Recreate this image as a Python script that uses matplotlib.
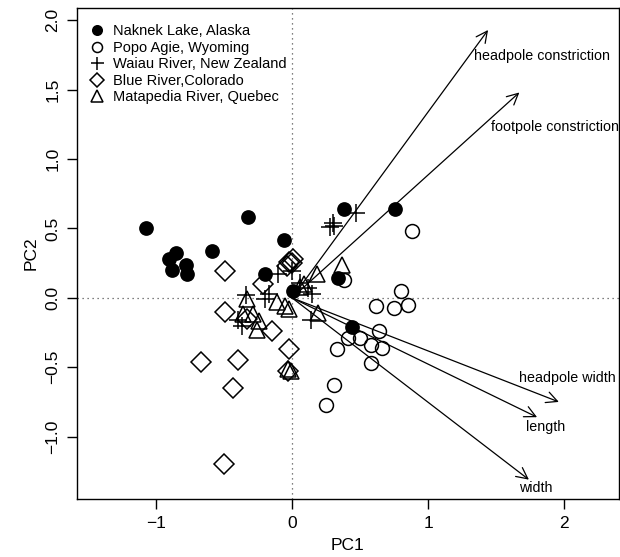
import numpy as np
import matplotlib
matplotlib.use("Agg")
import matplotlib.pyplot as plt

plt.rcParams['font.family'] = ['Liberation Sans', 'DejaVu Sans']

# Naknek Lake, Alaska (filled circles)
naknek_x = [-1.07, -0.90, -0.85, -0.88, -0.78, -0.77, -0.59, -0.32, -0.06, -0.20, 0.01, 0.38, 0.76, 0.34, 0.44]
naknek_y = [0.50, 0.28, 0.32, 0.20, 0.24, 0.17, 0.34, 0.58, 0.42, 0.17, 0.05, 0.64, 0.64, 0.14, -0.21]

# Popo Agie, Wyoming (open circles)
popo_x = [0.88, 0.38, 0.80, 0.85, 0.75, 0.62, 0.64, 0.50, 0.41, 0.58, 0.66, 0.33, 0.58, 0.31, 0.25]
popo_y = [0.48, 0.13, 0.05, -0.05, -0.07, -0.06, -0.24, -0.29, -0.29, -0.34, -0.36, -0.37, -0.47, -0.63, -0.77]

# Waiau River, New Zealand (crosses)
waiau_x = [0.47, 0.28, 0.31, 0.30, -0.10, 0.00, 0.06, 0.15, 0.12, -0.34, -0.20, -0.17, -0.40, -0.37, 0.14]
waiau_y = [0.61, 0.51, 0.52, 0.54, 0.17, 0.19, 0.11, 0.03, 0.07, 0.02, -0.01, 0.03, -0.16, -0.20, -0.16]

# Blue River, Colorado (diamonds)
blue_x = [-0.49, -0.02, 0.00, 0.01, -0.04, -0.21, -0.49, -0.33, -0.15, -0.02, -0.03, -0.67, -0.40, -0.43, -0.50]
blue_y = [0.19, 0.26, 0.25, 0.28, 0.23, 0.10, -0.10, -0.15, -0.24, -0.37, -0.53, -0.46, -0.45, -0.65, -1.20]

# Matapedia River, Quebec (triangles)
mata_x = [0.37, 0.18, 0.09, 0.06, -0.11, -0.05, -0.02, -0.33, -0.36, -0.29, -0.24, -0.26, 0.19, -0.03, -0.01]
mata_y = [0.24, 0.17, 0.10, 0.08, -0.03, -0.06, -0.08, -0.01, -0.12, -0.12, -0.17, -0.23, -0.11, -0.51, -0.53]

# loading vectors
var_names = ['headpole constriction', 'footpole constriction', 'headpole width', 'length', 'width']
load_x = [1.44, 1.67, 1.96, 1.80, 1.74]
load_y = [1.93, 1.48, -0.75, -0.86, -1.31]
label_x = [1.34, 1.46, 1.67, 1.72, 1.67]
label_y = [1.74, 1.23, -0.58, -0.93, -1.37]

fig = plt.figure(figsize=(6.2, 5.57), dpi=100)
ax = fig.add_axes([0.124, 0.104, 0.874, 0.882])

ax.axhline(0, color='#555555', ls=(0, (1, 3)), lw=0.9, zorder=0)
ax.axvline(0, color='#555555', ls=(0, (1, 3)), lw=0.9, zorder=0)

mk = dict(ls='none', color='black', markeredgewidth=1.1)
ax.plot(naknek_x, naknek_y, 'o', ms=9.5, mfc='black', label='Naknek Lake, Alaska', **mk)
ax.plot(popo_x, popo_y, 'o', ms=10, mfc='none', label='Popo Agie, Wyoming', **mk)
ax.plot(waiau_x, waiau_y, '+', ms=13, label='Waiau River, New Zealand', **mk)
ax.plot(blue_x, blue_y, 'D', ms=10, mfc='none', label='Blue River,Colorado', **mk)
ax.plot(mata_x, mata_y, '^', ms=12, mfc='none', label='Matapedia River, Quebec', **mk)

for name, vx, vy, tx, ty in zip(var_names, load_x, load_y, label_x, label_y):
    ax.annotate('', xy=(vx, vy), xytext=(0, 0),
                arrowprops=dict(arrowstyle='->,head_length=0.8,head_width=0.4',
                                lw=0.9, color='black', shrinkA=0, shrinkB=0))
    ax.text(tx, ty, name, fontsize=10.3, ha='left', va='center')

ax.set_xlim(-1.58, 2.40)
ax.set_ylim(-1.45, 2.09)
ax.set_xticks([-1, 0, 1, 2])
ax.set_xticklabels(['\u22121', '0', '1', '2'])
yt = [-1.0, -0.5, 0.0, 0.5, 1.0, 1.5, 2.0]
ax.set_yticks(yt)
ax.set_yticklabels(['\u22121.0', '\u22120.5', '0.0', '0.5', '1.0', '1.5', '2.0'],
                   rotation=90, va='center')
ax.tick_params(direction='out', length=7, width=1, labelsize=12.5, pad=5)
ax.set_xlabel('PC1', fontsize=12.5, labelpad=5)
ax.set_ylabel('PC2', fontsize=12.5, labelpad=5)
for s in ax.spines.values():
    s.set_linewidth(1)

ax.legend(loc='upper left', bbox_to_anchor=(0.0, 0.99), frameon=False, fontsize=10.5,
          handletextpad=0.5, labelspacing=0.17, handlelength=1.2, borderaxespad=0.4,
          markerscale=0.72)

fig.savefig('out.png', dpi=100)
